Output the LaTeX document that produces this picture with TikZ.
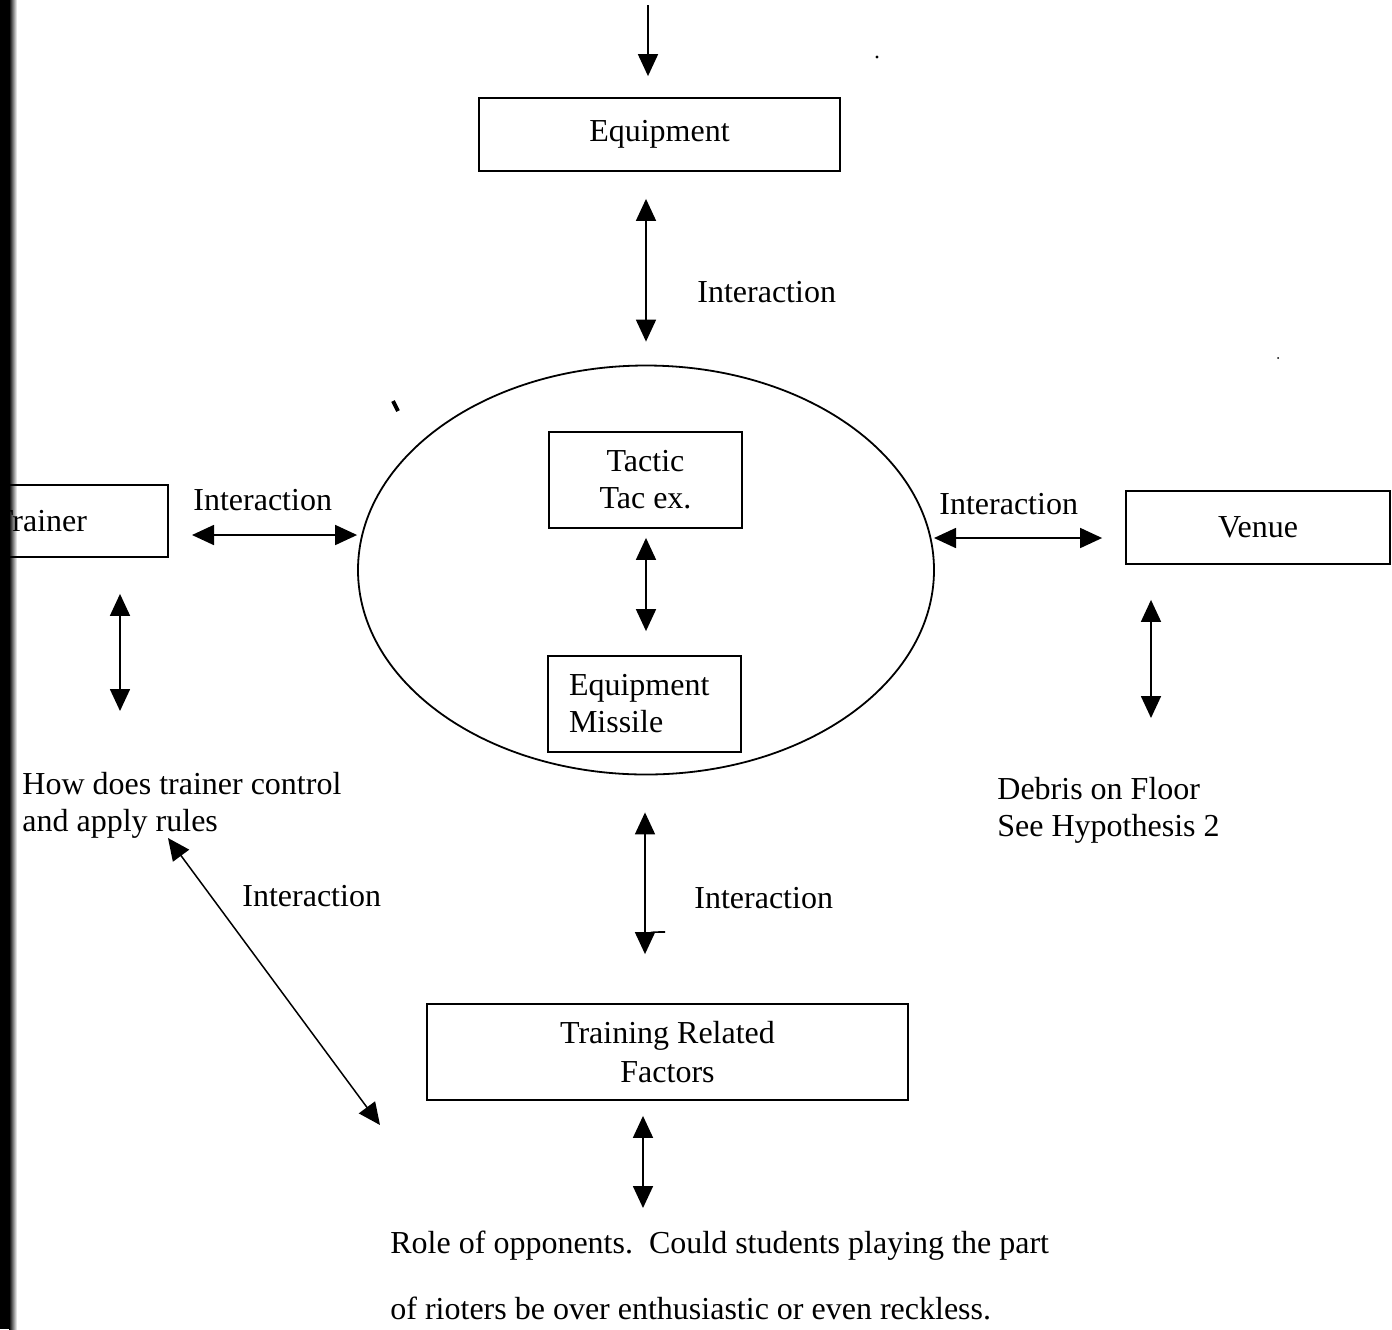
\documentclass[tikz,border=0pt]{standalone}
\usepackage{fontspec}
\setmainfont{Liberation Serif}
\usetikzlibrary{arrows.meta,shapes.geometric}
\begin{document}
\begin{tikzpicture}[x=0.5pt,y=-0.5pt,
  every node/.style={font=\fontsize{16}{18.5}\selectfont},
  boxnode/.style={draw,line width=0.9pt,inner sep=0pt,minimum width=#1},
  dbl/.style={{Triangle[width=10pt,length=11pt]}-{Triangle[width=10pt,length=11pt]},line width=0.85pt},
  sgl/.style={-{Triangle[width=10pt,length=11pt]},line width=0.85pt},
  lbl/.style={inner sep=0pt,anchor=west},
  txt/.style={inner sep=0pt,anchor=base west,align=left}]
\useasboundingbox (0,0) rectangle (1392,1329);
% scan edge
\fill[black] (0,0) rectangle (9,1329);
\shade[left color=black,right color=white] (9,0) rectangle (17,1329);

% boxes
\node[boxnode=180.5pt,minimum height=36.5pt] (equip) at (659.5,134.5) {Equipment};
\node[draw,ellipse,line width=0.9pt,inner sep=0pt,minimum width=288pt,minimum height=204.5pt] (ell) at (646,570) {};
\node[boxnode=96.5pt,minimum height=48pt,align=center] (tactic) at (645.5,480) {Tactic\\Tac ex.};
\node[draw,line width=0.9pt,inner ysep=0pt,inner xsep=10.5pt,text width=75.5pt,minimum height=48pt,align=left] (missile) at (644.5,704) {Equipment\\Missile};
\node[draw,line width=0.9pt,inner ysep=0pt,inner xsep=7pt,text width=80pt,minimum height=36pt,align=left] (trainer) at (74,521) {Trainer};
\node[boxnode=132pt,minimum height=36.5pt] (venue) at (1258,527.5) {Venue};
\node[boxnode=240.5pt,minimum height=48pt,align=center,font=\fontsize{16}{19.5}\selectfont] (trf) at (667.5,1052) {Training Related\\Factors};

% text blocks (anchor = baseline of last line)
\node[txt] (how) at (22,831) {How does trainer control\\and apply rules};
\node[txt] (debris) at (997,836) {Debris on Floor\\See Hypothesis 2};
\node[txt,font=\fontsize{16}{33}\selectfont] (role) at (390,1319) {Role of opponents.\ \ Could students playing the part\\of rioters be over enthusiastic or even reckless.};

% labels
\node[lbl] (l1) at (697,292) {Interaction};
\node[lbl] (l2) at (193,500) {Interaction};
\node[lbl] (l3) at (939,504) {Interaction};
\node[lbl] (l4) at (242,896) {Interaction};
\node[lbl] (l5) at (694,898) {Interaction};

% coordinates
\coordinate (top) at (648,5);
\coordinate (d1) at (168,838);
\coordinate (d2) at (380,1125);
\coordinate (tl) at (168,535);
\coordinate (tr) at (934,538);

% connectors
\draw[sgl,shorten >=10.5pt] (top) -- (top |- equip.north);
\draw[dbl,shorten <=13.5pt,shorten >=11.5pt] (ell.north |- equip.south) -- (ell.north);
\draw[dbl,shorten <=4.5pt,shorten >=12pt] (ell.north |- tactic.south) -- (ell.north |- missile.north);
\draw[dbl,shorten <=12pt] (tl) -- (ell.west |- tl);
\draw[dbl,shorten >=11.5pt] (tr) -- (venue.west |- tr);
\draw[dbl,shorten <=18pt,shorten >=29.5pt] (120,0 |- trainer.south) -- (120,770);
\draw[dbl,shorten <=17.5pt,shorten >=28.5pt] (1151,0 |- venue.south) -- (1151,775);
\draw[dbl,shorten <=18.5pt,shorten >=24.5pt] (645,0 |- ell.south) -- (645,0 |- trf.north);
\draw[dbl,shorten <=7.5pt,shorten >=10pt] (643,0 |- trf.south) -- (643,1228);
\draw[dbl,line width=0.75pt] (d1) -- (d2);
\draw[line width=0.8pt] (645,936) .. controls (650,932) .. (665,932);

% specks
\fill (877,57) circle (1.6);
\fill (1278,358) circle (1);
\draw[line width=2pt] (393,401) -- (398,411);
\end{tikzpicture}
\end{document}
